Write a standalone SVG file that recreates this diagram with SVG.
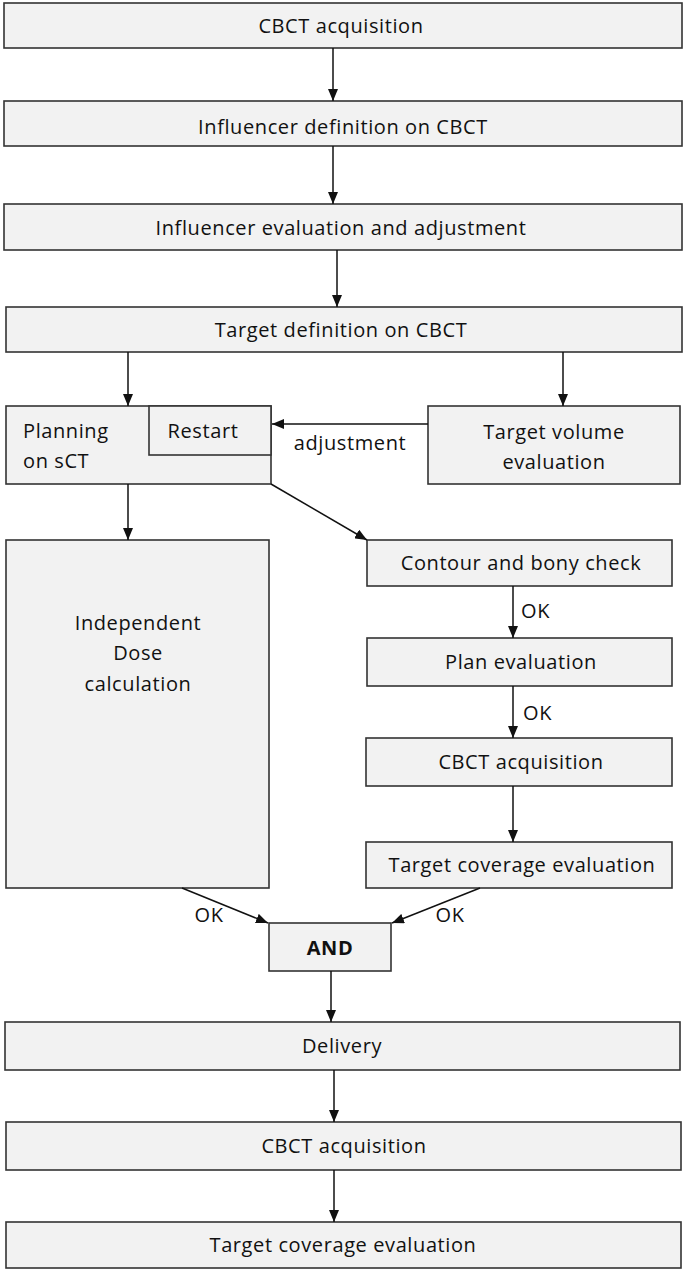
<svg xmlns="http://www.w3.org/2000/svg" width="685" height="1272" viewBox="0 0 685 1272">
<defs>
<marker id="ah" viewBox="0 0 12 10" refX="12" refY="5" markerWidth="12" markerHeight="10" markerUnits="userSpaceOnUse" orient="auto">
<path d="M0,0 L12,5 L0,10 Z" fill="#111"/>
</marker>
<style>
.box{fill:#f2f2f2;stroke:#333;stroke-width:1.6}
.t{font-family:"Open Sans","Noto Sans",sans-serif;font-size:20px;letter-spacing:0.6px;fill:#111;text-anchor:middle;dominant-baseline:central}
.l{text-anchor:start}
.b{font-weight:bold}
.c{stroke:#111;stroke-width:1.5;fill:none;marker-end:url(#ah)}
</style>
</defs>
<rect width="685" height="1272" fill="#fff"/>
<g id="n1"><rect class="box" x="4" y="3" width="678" height="45"/><text class="t" x="341" y="25">CBCT acquisition</text></g>
<g id="n2"><rect class="box" x="4" y="101" width="678" height="45"/><text class="t" x="343" y="126">Influencer definition on CBCT</text></g>
<g id="n3"><rect class="box" x="4" y="204" width="678" height="46"/><text class="t" x="341" y="227">Influencer evaluation and adjustment</text></g>
<g id="n4"><rect class="box" x="6" y="307" width="676" height="45"/><text class="t" x="341" y="329">Target definition on CBCT</text></g>
<g id="n5"><rect class="box" x="6" y="406" width="265" height="78"/><text class="t l" x="23" y="430">Planning</text><text class="t l" x="23" y="460">on sCT</text></g>
<g id="n6"><rect class="box" x="149" y="406" width="122" height="49"/><text class="t" x="203" y="430">Restart</text></g>
<g id="n7"><rect class="box" x="428" y="406" width="252" height="78"/><text class="t" x="554" y="431">Target volume</text><text class="t" x="554" y="461">evaluation</text></g>
<g id="n8"><rect class="box" x="6" y="540" width="263" height="348"/><text class="t" x="138" y="622">Independent</text><text class="t" x="138" y="652">Dose</text><text class="t" x="138" y="683">calculation</text></g>
<g id="n9"><rect class="box" x="367" y="540" width="305" height="46"/><text class="t" x="521" y="562">Contour and bony check</text></g>
<g id="n10"><rect class="box" x="367" y="638" width="305" height="48"/><text class="t" x="521" y="661">Plan evaluation</text></g>
<g id="n11"><rect class="box" x="366" y="738" width="306" height="48"/><text class="t" x="521" y="761">CBCT acquisition</text></g>
<g id="n12"><rect class="box" x="366" y="842" width="306" height="46"/><text class="t" x="522" y="864">Target coverage evaluation</text></g>
<g id="n13"><rect class="box" x="269" y="923" width="122" height="48"/><text class="t b" x="330" y="947">AND</text></g>
<g id="n14"><rect class="box" x="5" y="1022" width="675" height="48"/><text class="t" x="342" y="1045">Delivery</text></g>
<g id="n15"><rect class="box" x="6" y="1122" width="675" height="48"/><text class="t" x="344" y="1145">CBCT acquisition</text></g>
<g id="n16"><rect class="box" x="6" y="1222" width="675" height="46"/><text class="t" x="343" y="1244">Target coverage evaluation</text></g>
<g id="connectors">
<line class="c" x1="333" y1="48" x2="333" y2="101"/>
<line class="c" x1="333" y1="146" x2="333" y2="204"/>
<line class="c" x1="337" y1="250" x2="337" y2="307"/>
<line class="c" x1="128" y1="352" x2="128" y2="406"/>
<line class="c" x1="563" y1="352" x2="563" y2="406"/>
<line class="c" x1="428" y1="424" x2="272" y2="424"/>
<text class="t" x="350" y="442">adjustment</text>
<line class="c" x1="128" y1="484" x2="128" y2="540"/>
<line class="c" x1="271" y1="484" x2="367" y2="540"/>
<line class="c" x1="513" y1="586" x2="513" y2="638"/>
<text class="t l" x="521" y="610">OK</text>
<line class="c" x1="513" y1="686" x2="513" y2="738"/>
<text class="t l" x="523" y="712">OK</text>
<line class="c" x1="513" y1="786" x2="513" y2="842"/>
<line class="c" x1="182" y1="888" x2="268" y2="923"/>
<text class="t" x="209" y="914">OK</text>
<line class="c" x1="480" y1="888" x2="392" y2="923"/>
<text class="t" x="450" y="914">OK</text>
<line class="c" x1="331" y1="971" x2="331" y2="1022"/>
<line class="c" x1="334" y1="1070" x2="334" y2="1122"/>
<line class="c" x1="334" y1="1170" x2="334" y2="1222"/>
</g>
</svg>
